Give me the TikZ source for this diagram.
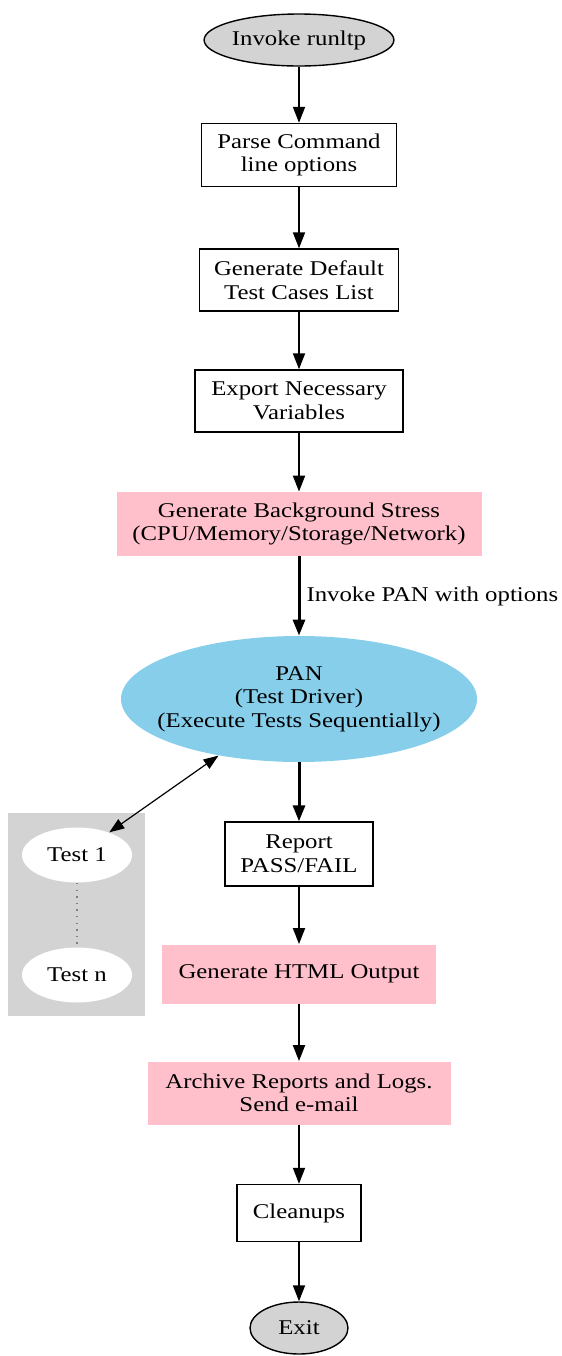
\documentclass[tikz,border=0pt]{standalone}
\usepackage{fontspec}
\setmainfont{Liberation Serif}[FakeStretch=1.18]
\usetikzlibrary{shapes.geometric,arrows.meta}
\definecolor{gvpink}{HTML}{FFC0CB}
\definecolor{gvsky}{HTML}{87CEEB}
\definecolor{gvgrey}{HTML}{D3D3D3}
\tikzset{
  txt/.style={font=\fontsize{10.5}{11.8}\selectfont, align=center, inner sep=0pt},
  term/.style={txt, ellipse, draw=black, line width=0.7pt, fill=gvgrey},
  plainbox/.style={txt, rectangle, draw=black, line width=0.7pt, fill=white},
  pinkbox/.style={txt, rectangle, fill=gvpink},
  driver/.style={ellipse, fill=gvsky, inner sep=0pt},
  testnode/.style={txt, ellipse, fill=white},
  flow/.style={-{Triangle[length=8pt,width=6pt]}, line width=0.9pt},
  heavyflow/.style={-{Triangle[length=8pt,width=6pt]}, line width=1.5pt},
  bothways/.style={{Triangle[length=7.5pt,width=5.5pt]}-{Triangle[length=7.5pt,width=5.5pt]}, line width=0.6pt},
  dotlink/.style={gray, line width=0.7pt, dash pattern=on 0.7pt off 2.6pt},
}
\begin{document}
\begin{tikzpicture}[x=0.5pt,y=-0.5pt]
\useasboundingbox (0,0) rectangle (562,1356);

% main chain
\node[term, minimum width=91pt, minimum height=26pt] (start) at (299,40) {Invoke runltp};
\node[plainbox, minimum width=97.5pt, minimum height=31.5pt] (parse) at (299,155) {Parse Command\\line options};
\node[plainbox, minimum width=99.5pt, minimum height=31pt] (deflist) at (299,280) {Generate Default\\Test Cases List};
\node[plainbox, minimum width=104pt, minimum height=31pt] (export) at (299,401) {Export Necessary\\Variables};
\node[pinkbox, minimum width=182.5pt, minimum height=32pt] (stress) at (299,524) {Generate Background Stress\\(CPU/Memory/Storage/Network)};
% test driver: ellipse drawn at a fixed size, its text set on top
\node[driver, minimum width=178pt, minimum height=63pt] (pan) at (299,699) {};
\node[txt] (pantext) at (pan.center) {PAN\\(Test Driver)\\(Execute Tests Sequentially)};
\node[plainbox, minimum width=74pt, minimum height=32pt] (report) at (299,854) {Report\\PASS/FAIL};
\node[pinkbox, minimum width=137pt, minimum height=29.5pt] (html) at (299,974) {Generate HTML Output};
\node[pinkbox, minimum width=151.5pt, minimum height=31.5pt] (archive) at (299,1093) {Archive Reports and Logs.\\Send e-mail};
\node[plainbox, minimum width=62pt, minimum height=28.5pt] (cleanup) at (299,1213) {Cleanups};
\node[term, minimum width=49pt, minimum height=26pt] (exit) at (299,1328) {Exit};

% test cluster
\fill[gvgrey] (8,813) rectangle (145,1016);
\node[testnode, minimum width=55pt, minimum height=27.5pt] (t1) at (77,855) {Test 1};
\node[testnode, minimum width=55pt, minimum height=27.5pt] (tn) at (77,975) {Test n};
\draw[dotlink] (t1) -- (tn);

% connectors
\draw[flow] (start) -- (parse);
\draw[flow] (parse) -- (deflist);
\draw[flow] (deflist) -- (export);
\draw[flow] (export) -- (stress);
\draw[heavyflow] (stress) -- (pan)
  node[txt, midway, right=3pt] (panlabel) {Invoke PAN with options};
\draw[heavyflow] (pan) -- (report);
\draw[flow] (report) -- (html);
\draw[flow] (html) -- (archive);
\draw[flow] (archive) -- (cleanup);
\draw[flow] (cleanup) -- (exit);
\draw[bothways] (t1) -- (pan);
\end{tikzpicture}
\end{document}
